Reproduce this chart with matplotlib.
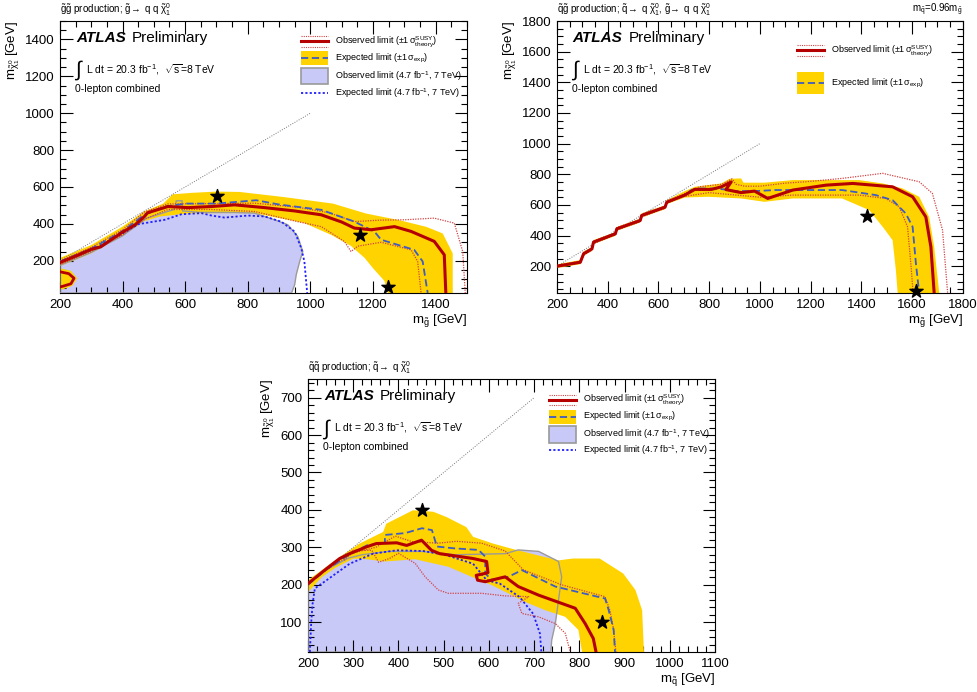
import matplotlib
matplotlib.use("Agg")
import matplotlib.pyplot as plt
from matplotlib.ticker import MultipleLocator
from matplotlib.patches import Rectangle

plt.rcParams.update({
    "font.family": ["Liberation Sans", "DejaVu Sans"],
    "mathtext.fontset": "custom",
    "mathtext.rm": "Liberation Sans",
    "mathtext.it": "Liberation Sans:italic",
    "mathtext.bf": "Liberation Sans:bold",
    "mathtext.default": "regular",
    "axes.linewidth": 0.8,
})

RED = "#b40000"
RED_DOT = "#d04545"
YEL = "#ffd300"
BLUE_DASH = "#3d5cc6"
LAV = "#c9c9f7"
GRAY = "#9a9a9a"
BLUE_DOT = "#2020ff"

# ---- gluino-gluino (top left), values in GeV ----
gg_obs = [(200, 190), (250, 225), (300, 262), (330, 275), (360, 310), (400, 355), (440, 395),
          (470, 440), (480, 460), (545, 494), (609, 488), (684, 494), (758, 503), (854, 488),
          (950, 470), (1035, 449), (1100, 410), (1141, 377), (1194, 368), (1269, 385),
          (1322, 359), (1396, 305), (1428, 232), (1433, 25)]
gg_obs_loop = [(200, 140), (228, 130), (245, 105), (235, 75), (210, 62), (200, 58)]
gg_up = [(200, 200), (300, 272), (400, 368), (470, 465), (545, 508), (684, 510), (822, 512),
         (960, 490), (1060, 460), (1141, 412), (1220, 420), (1300, 422), (1396, 431),
         (1460, 404), (1487, 250), (1495, 25)]
gg_dn = [(200, 180), (300, 250), (400, 340), (470, 425), (545, 478), (684, 478), (822, 467),
         (960, 412), (1035, 385), (1109, 304), (1130, 250), (1152, 279), (1226, 300),
         (1322, 259), (1343, 196), (1354, 25)]
gg_exp = [(200, 195), (300, 265), (400, 360), (470, 450), (540, 495), (604, 510), (700, 510),
          (827, 528), (900, 505), (1035, 476), (1141, 412), (1205, 358), (1226, 314),
          (1332, 259), (1359, 196), (1375, 25)]
gg_band_hi = [(200, 215), (300, 285), (400, 385), (470, 468), (530, 510), (560, 560), (620, 568),
              (700, 575), (774, 573), (912, 546), (1072, 510), (1178, 456), (1284, 420),
              (1370, 384), (1423, 348), (1455, 240), (1455, 25)]
gg_band_lo = [(1248, 25), (1237, 90), (1200, 160), (1173, 216), (1130, 280), (1067, 340),
              (981, 404), (822, 458), (700, 458), (600, 455), (520, 440), (470, 415),
              (400, 335), (300, 240), (200, 170)]
gg_band_blob = [(200, 160), (235, 145), (255, 105), (240, 65), (210, 45), (200, 45)]
gg_7obs = [(200, 25), (200, 175), (300, 245), (400, 335), (476, 430), (540, 465), (565, 478),
           (572, 525), (590, 525), (592, 470), (647, 462), (753, 462), (822, 458), (886, 422),
           (928, 395), (960, 331), (976, 250), (966, 196), (955, 124), (950, 70), (940, 25)]
gg_7exp = [(200, 190), (300, 258), (400, 348), (450, 398), (471, 404), (535, 422), (588, 452),
           (652, 458), (684, 445), (726, 434), (800, 445), (854, 440), (907, 412), (950, 358),
           (971, 268), (981, 196), (990, 25)]
gg_stars = [(702, 551), (1160, 342), (1247, 56)]
gg_diag = [(200, 200), (1000, 1000)]

# ---- squark-gluino (top right) ----
sg_obs = [(200, 200), (292, 226), (305, 281), (338, 313), (344, 357), (430, 411), (436, 444),
          (528, 498), (534, 531), (626, 585), (633, 618), (704, 664), (743, 701), (809, 701),
          (848, 718), (887, 750), (866, 700), (926, 680), (979, 690), (1031, 642), (1130, 697),
          (1261, 729), (1366, 740), (1523, 718), (1602, 653), (1654, 522), (1674, 326),
          (1687, 25)]
sg_up = [(200, 205), (292, 232), (305, 290), (338, 320), (344, 365), (430, 418), (436, 452),
         (528, 505), (534, 540), (626, 592), (633, 625), (700, 672), (760, 718), (850, 735),
         (890, 770), (905, 735), (940, 722), (1000, 722), (1100, 742), (1182, 751),
         (1324, 773), (1484, 806), (1628, 751), (1680, 675), (1720, 435), (1740, 25)]
sg_dn = [(200, 195), (292, 220), (305, 272), (338, 305), (344, 348), (430, 404), (436, 436),
         (528, 490), (534, 522), (626, 578), (633, 610), (700, 655), (800, 680), (900, 665),
         (1000, 650), (1130, 664), (1391, 664), (1496, 642), (1549, 588), (1582, 457),
         (1595, 217), (1604, 25)]
sg_exp = [(200, 200), (292, 226), (305, 281), (338, 313), (344, 357), (430, 411), (436, 444),
          (528, 498), (534, 531), (626, 585), (633, 618), (700, 662), (730, 697), (756, 707),
          (822, 707), (861, 701), (900, 690), (979, 690), (1062, 697), (1324, 697),
          (1457, 664), (1523, 631), (1575, 544), (1602, 457), (1615, 217), (1628, 25)]
sg_band_hi = [(200, 212), (292, 240), (305, 295), (338, 325), (344, 370), (430, 422), (436, 456),
              (528, 510), (534, 545), (626, 597), (633, 630), (704, 690), (743, 718), (848, 740),
              (880, 770), (926, 773), (935, 745), (1018, 745), (1130, 762), (1261, 762),
              (1391, 762), (1484, 740), (1562, 708), (1628, 653), (1667, 522), (1687, 326),
              (1707, 25)]
sg_band_lo = [(1543, 25), (1536, 174), (1523, 370), (1484, 457), (1431, 566), (1324, 642),
              (1130, 642), (1018, 620), (926, 642), (796, 653), (704, 648), (633, 605),
              (626, 572), (534, 518), (528, 485), (436, 431), (430, 398), (344, 344),
              (338, 300), (305, 268), (292, 213), (200, 188)]
sg_stars = [(1424, 525), (1614, 41)]
sg_diag = [(200, 200), (1000, 1000)]

# ---- squark-squark (bottom) ----
ss_obs = [(200, 203), (241, 243), (270, 270), (292, 283), (329, 301), (351, 310), (396, 312),
          (418, 305), (451, 319), (473, 292), (491, 283), (565, 270), (595, 262), (598, 232),
          (572, 225), (575, 212), (592, 208), (636, 221), (665, 195), (710, 172), (791, 137),
          (813, 96), (831, 56), (837, 20)]
ss_up = [(200, 205), (260, 255), (300, 285), (350, 300), (393, 330), (430, 315), (488, 311),
         (528, 316), (584, 311), (636, 290), (676, 240), (760, 200), (857, 168), (868, 130),
         (876, 79), (881, 20)]
ss_dn = [(280, 265), (300, 292), (341, 292), (356, 260), (380, 270), (400, 284), (437, 257),
         (459, 221), (488, 186), (510, 177), (584, 177), (636, 170), (688, 168), (665, 150),
         (673, 123), (710, 114), (747, 96), (769, 70), (780, 20)]
ss_exp = [(200, 200), (240, 240), (290, 280), (330, 305), (370, 312), (370, 333), (415, 338),
          (452, 351), (474, 346), (485, 302), (525, 297), (577, 293), (592, 275), (592, 230),
          (606, 213), (643, 221), (673, 239), (747, 195), (857, 163), (865, 132), (876, 79),
          (879, 20)]
ss_band_hi = [(200, 212), (270, 274), (314, 310), (366, 341), (373, 363), (432, 399), (477, 395),
              (506, 381), (550, 354), (565, 328), (609, 310), (654, 295), (710, 278), (754, 265),
              (786, 270), (845, 270), (897, 230), (924, 186), (939, 132), (943, 20)]
ss_band_lo = [(806, 20), (798, 79), (769, 114), (724, 132), (680, 154), (636, 181), (606, 199),
              (562, 221), (510, 248), (437, 268), (370, 262), (330, 268), (300, 270),
              (260, 245), (230, 220), (200, 180)]
ss_7obs = [(200, 20), (200, 204), (238, 239), (289, 271), (319, 280), (378, 289), (452, 289),
           (525, 280), (599, 282), (636, 283), (665, 293), (710, 289), (754, 262), (761, 221),
           (754, 159), (747, 96), (739, 52), (737, 20)]
ss_7exp = [(204, 20), (207, 100), (210, 149), (215, 190), (241, 212), (292, 256), (344, 283),
           (396, 292), (455, 290), (506, 279), (565, 256), (595, 212), (624, 203), (668, 167),
           (698, 122), (713, 69), (716, 20)]
ss_stars = [(451, 399), (851, 100)]
ss_diag = [(200, 200), (700, 700)]


def xy(pts):
    return [p[0] for p in pts], [p[1] for p in pts]


def line(ax, pts, **kw):
    x, y = xy(pts)
    ax.plot(x, y, **kw)


def style(ax, xlim, ylim, xmaj, xmin, ymaj, ymin, xlab, title):
    ax.set_xlim(*xlim)
    ax.set_ylim(*ylim)
    ax.xaxis.set_major_locator(MultipleLocator(xmaj))
    ax.xaxis.set_minor_locator(MultipleLocator(xmin))
    ax.yaxis.set_major_locator(MultipleLocator(ymaj))
    ax.yaxis.set_minor_locator(MultipleLocator(ymin))
    ax.tick_params(which="both", direction="in", top=True, right=True, width=0.8, labelsize=9.5)
    ax.tick_params(which="major", length=9, pad=4)
    ax.tick_params(which="minor", length=4.5)
    ax.set_xlabel(xlab, loc="right", fontsize=9.5, labelpad=1)
    ax.set_ylabel(r"m$_{\tilde{\chi}^0_1}$ [GeV]", loc="top", fontsize=9.5, labelpad=2)
    ax.text(0, 1.012, title, transform=ax.transAxes, fontsize=7, va="bottom", ha="left")
    ax.text(0.039, 0.937, "ATLAS", transform=ax.transAxes, fontsize=11,
            fontweight="bold", fontstyle="italic", va="center")
    ax.text(0.176, 0.937, "Preliminary", transform=ax.transAxes, fontsize=11, va="center")
    ax.text(0.034, 0.818, r"$\int$", transform=ax.transAxes, fontsize=15, va="center")
    ax.text(0.064, 0.823, r"L dt = 20.3 fb$^{-1}$,  $\sqrt{s}$=8 TeV", transform=ax.transAxes,
            fontsize=7.5, va="center")
    ax.text(0.037, 0.75, "0-lepton combined", transform=ax.transAxes, fontsize=7.5, va="center")


def contours(ax, obs, up, dn, exp, hi, lo, diag, stars):
    bx, by = xy(hi + lo)
    ax.fill(bx, by, color=YEL, lw=0, zorder=2)
    line(ax, diag, color="#777777", lw=0.7, ls=(0, (1, 1.5)), zorder=3)
    line(ax, up, color=RED_DOT, lw=0.9, ls=(0, (1, 1)), zorder=4)
    line(ax, dn, color=RED_DOT, lw=0.9, ls=(0, (1, 1)), zorder=4)
    line(ax, exp, color=BLUE_DASH, lw=1.3, ls=(0, (4, 2)), zorder=5)
    line(ax, obs, color=RED, lw=2.2, zorder=6)
    sx, sy = xy(stars)
    ax.scatter(sx, sy, marker="*", s=100, color="black", zorder=8, clip_on=False)


def seven_tev(ax, obs7, exp7):
    x, y = xy(obs7)
    ax.fill(x, y, color=LAV, lw=0, zorder=1)
    ax.fill(x, y, facecolor="none", edgecolor=GRAY, lw=1.0, zorder=3)
    line(ax, exp7, color=BLUE_DOT, lw=1.3, ls=(0, (1.2, 1.2)), zorder=5)


OBS_TXT = r"Observed limit ($\pm1\,\sigma^{SUSY}_{theory}$)"
EXP_TXT = r"Expected limit ($\pm1\,\sigma_{exp}$)"
OBS7_TXT = r"Observed limit (4.7 fb$^{-1}$, 7 TeV)"
EXP7_TXT = r"Expected limit (4.7 fb$^{-1}$, 7 TeV)"


def legend(ax, rows, box_h=0.05):
    x0, x1, xt = 0.592, 0.658, 0.676
    kw = dict(transform=ax.transAxes, clip_on=False)
    for kind, y in rows:
        if kind == "obs":
            ax.plot([x0, x1], [y, y], color=RED, lw=2.2, **kw)
            for s in (-1, 1):
                ax.plot([x0, x1], [y + s * 0.02] * 2, color=RED_DOT, lw=0.8, ls=(0, (1, 1)), **kw)
            txt = OBS_TXT
        elif kind == "exp":
            ax.add_patch(Rectangle((x0, y - box_h / 2), x1 - x0, box_h, color=YEL, lw=0, **kw))
            ax.plot([x0, x1], [y, y], color=BLUE_DASH, lw=1.3, ls=(0, (4, 2)), **kw)
            txt = EXP_TXT
        elif kind == "obs7":
            ax.add_patch(Rectangle((x0, y - 0.03), x1 - x0, 0.06, facecolor=LAV,
                                   edgecolor=GRAY, lw=1.2, **kw))
            txt = OBS7_TXT
        else:
            ax.plot([x0, x1], [y, y], color=BLUE_DOT, lw=1.3, ls=(0, (1.2, 1.2)), **kw)
            txt = EXP7_TXT
        ax.text(xt, y, txt, transform=ax.transAxes, fontsize=6.5, va="center")


fig = plt.figure(figsize=(9.78, 6.92), dpi=100)

# top left: gluino pair
ax1 = fig.add_axes([0.0613, 0.5766, 0.416, 0.393])
seven_tev(ax1, gg_7obs, gg_7exp)
bx, by = xy(gg_band_blob)
ax1.fill(bx, by, color=YEL, lw=0, zorder=2)
contours(ax1, gg_obs, gg_up, gg_dn, gg_exp, gg_band_hi, gg_band_lo, gg_diag, gg_stars)
line(ax1, gg_obs_loop, color=RED, lw=2.0, zorder=6)
style(ax1, (200, 1500), (25, 1500), 200, 50, 200, 50, r"m$_{\tilde{g}}$ [GeV]",
      r"$\tilde{g}\tilde{g}$ production; $\tilde{g}\!\rightarrow$ q q $\tilde{\chi}^0_1$")
legend(ax1, [("obs", 0.926), ("exp", 0.864), ("obs7", 0.798), ("exp7", 0.735)])

# top right: squark-gluino
ax2 = fig.add_axes([0.5695, 0.5766, 0.415, 0.393])
contours(ax2, sg_obs, sg_up, sg_dn, sg_exp, sg_band_hi, sg_band_lo, sg_diag, sg_stars)
style(ax2, (200, 1800), (25, 1800), 200, 50, 200, 50, r"m$_{\tilde{g}}$ [GeV]",
      r"$\tilde{q}\tilde{g}$ production; $\tilde{q}\!\rightarrow$ q $\tilde{\chi}^0_1$, "
      r"$\tilde{g}\!\rightarrow$ q q $\tilde{\chi}^0_1$")
ax2.text(1.0, 1.012, r"m$_{\tilde{q}}$=0.96m$_{\tilde{g}}$", transform=ax2.transAxes,
         fontsize=7, va="bottom", ha="right")
legend(ax2, [("obs", 0.893), ("exp", 0.772)], box_h=0.08)

# bottom: squark pair
ax3 = fig.add_axes([0.315, 0.0578, 0.416, 0.3945])
seven_tev(ax3, ss_7obs, ss_7exp)
contours(ax3, ss_obs, ss_up, ss_dn, ss_exp, ss_band_hi, ss_band_lo, ss_diag, ss_stars)
style(ax3, (200, 1100), (20, 750), 100, 20, 100, 20, r"m$_{\tilde{q}}$ [GeV]",
      r"$\tilde{q}\tilde{q}$ production; $\tilde{q}\!\rightarrow$ q $\tilde{\chi}^0_1$")
legend(ax3, [("obs", 0.923), ("exp", 0.862), ("obs7", 0.797), ("exp7", 0.740)])

fig.savefig("out.png", dpi=100)
